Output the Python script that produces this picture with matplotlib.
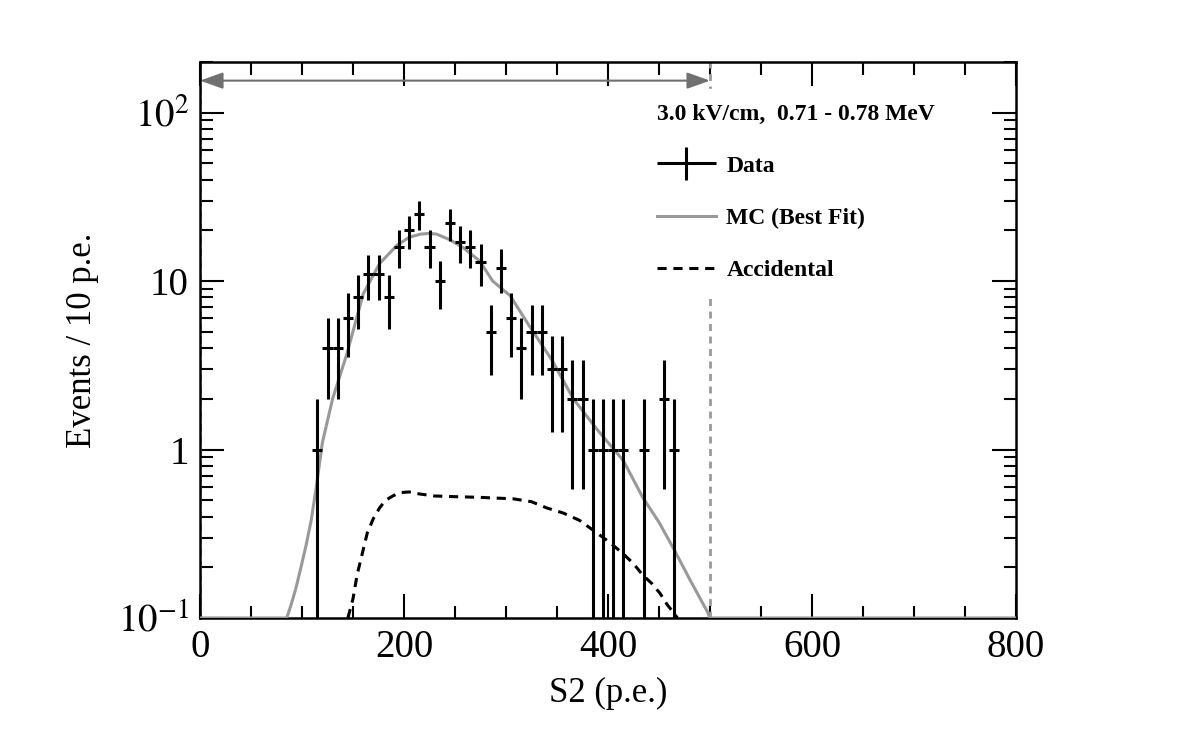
import numpy as np
import matplotlib
matplotlib.use("Agg")
import matplotlib.pyplot as plt
from matplotlib.ticker import MultipleLocator, FixedLocator, FixedFormatter, LogLocator, NullFormatter
from matplotlib.legend_handler import HandlerErrorbar

plt.rcParams['font.family'] = ['Liberation Serif', 'DejaVu Serif']
plt.rcParams['mathtext.fontset'] = 'stix'

# data histogram (10 p.e. bins)
bin_centers = [115, 125, 135, 145, 155, 165, 175, 185, 195, 205, 215, 225, 235, 245,
               255, 265, 275, 285, 295, 305, 315, 325, 335, 345, 355, 365, 375,
               385, 395, 405, 415, 435, 455, 465]
counts = [1, 4, 4, 6, 8, 11, 11, 8, 16, 20, 25, 16, 10, 22,
          17, 16, 13, 5, 12, 6, 4, 5, 5, 3, 3, 2, 2,
          1, 1, 1, 1, 1, 2, 1]

# MC best fit curve
mc_x = [0, 85, 89, 94, 99, 104, 109, 114, 120, 130, 144, 160, 176, 193, 205, 216, 225, 232, 245,
        258, 274, 287, 304, 323, 345, 366, 390, 415, 434, 450, 464, 480, 492, 497, 500, 800]
mc_y = [0.1, 0.1, 0.118, 0.15, 0.2, 0.27, 0.38, 0.6, 1.1, 2.0, 3.7, 8.4, 12.7, 16.3, 18.2, 19.0, 19.2, 19.0, 17.6,
        15.8, 13.2, 10.0, 8.2, 5.4, 3.4, 2.0, 1.3, 0.86, 0.52, 0.37, 0.26, 0.17, 0.125, 0.11, 0.1, 0.1]

# accidental background
acc_x = [145, 150, 154, 159, 164, 170, 176, 182, 189, 196, 205, 215, 230, 250, 275, 290, 307,
         325, 340, 356, 372, 389, 402, 415, 425, 434, 443, 451, 458, 464, 468]
acc_y = [0.1, 0.13, 0.18, 0.24, 0.32, 0.39, 0.45, 0.5, 0.53, 0.555, 0.56, 0.545, 0.53, 0.525, 0.52,
         0.515, 0.51, 0.49, 0.45, 0.42, 0.38, 0.32, 0.28, 0.24, 0.21, 0.18, 0.16, 0.14, 0.12, 0.108, 0.1]

window = [0, 500]
title = "3.0 kV/cm,  0.71 - 0.78 MeV"

cts = np.array(counts, dtype=float)
err = np.sqrt(cts)
lo = np.minimum(err, cts - 1e-6)

fig = plt.figure(figsize=(11.82, 7.55), dpi=100)
ax = fig.add_axes([0.1692, 0.1815, 0.6904, 0.7364])
ax.set_facecolor('white')

mc_line, = ax.plot(mc_x, mc_y, color='#999999', lw=2.2, label='MC (Best Fit)', zorder=3)
acc_line, = ax.plot(acc_x, acc_y, color='black', lw=2.2, ls=(0, (3, 2.2)), label='Accidental', zorder=3)
data_eb = ax.errorbar(bin_centers, cts, yerr=[lo, err], xerr=5, fmt='none', ecolor='black',
                      elinewidth=2.2, capsize=0, label='Data', zorder=4)

for xv in window:
    ax.axvline(xv, color='#999999', lw=2, ls=(0, (2.5, 2)), zorder=2)
ax.annotate('', xy=(window[0], 155), xytext=(window[1], 155),
            arrowprops=dict(arrowstyle='<|-|>,head_length=1.4,head_width=0.5', color='#707070', lw=1.5,
                            shrinkA=0, shrinkB=0), zorder=5)

ax.set_yscale('log')
ax.set_xlim(0, 800)
ax.set_ylim(0.1, 200)

ax.xaxis.set_major_locator(MultipleLocator(200))
ax.xaxis.set_minor_locator(MultipleLocator(50))
ax.yaxis.set_major_locator(FixedLocator([0.1, 1, 10, 100]))
ax.yaxis.set_major_formatter(FixedFormatter([r'$10^{-1}$', '1', '10', r'$10^{2}$']))
ax.yaxis.set_minor_locator(LogLocator(base=10, subs=np.arange(2, 10), numticks=20))
ax.yaxis.set_minor_formatter(NullFormatter())

ax.tick_params(which='both', direction='in', top=True, right=True, labelsize=28, width=1.5)
ax.tick_params(which='major', length=17, pad=8)
ax.tick_params(which='minor', length=9)
for s in ax.spines.values():
    s.set_linewidth(1.8)

ax.set_xlabel('S2 (p.e.)', fontsize=25, labelpad=8)
ax.set_ylabel('Events / 10 p.e.', fontsize=25, labelpad=14)

leg = ax.legend([data_eb, mc_line, acc_line], ['Data', 'MC (Best Fit)', 'Accidental'],
                loc='upper left', bbox_to_anchor=(0.528, 0.972), frameon=True, fancybox=False,
                framealpha=1, edgecolor='white', facecolor='white', title=title,
                prop={'weight': 'bold', 'size': 17}, title_fontproperties={'weight': 'bold', 'size': 17},
                handlelength=2.5, labelspacing=1.3, borderpad=0.6, handletextpad=0.45,
                handler_map={data_eb: HandlerErrorbar(xerr_size=1.25, yerr_size=0.7)})
leg._legend_box.align = 'left'
leg.set_zorder(6)

fig.savefig('out.png', dpi=100)
